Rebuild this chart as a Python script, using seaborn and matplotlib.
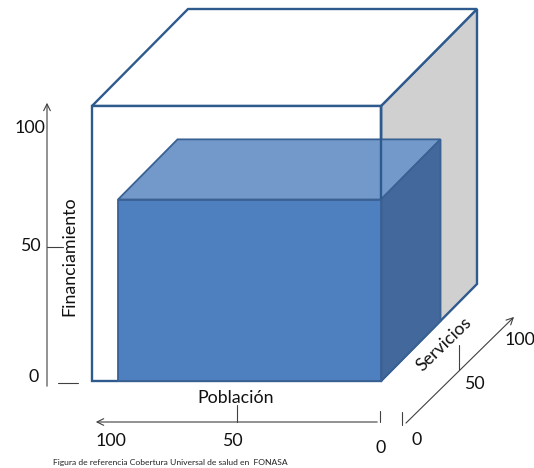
import matplotlib
matplotlib.use("Agg")
import matplotlib.pyplot as plt
from matplotlib.patches import Polygon
import seaborn as sns
import pandas as pd

# ---- data ----
dimensions = ["Población", "Servicios", "Financiamiento"]
total_coverage = [100, 100, 100]      # outer cube
current_coverage = [91, 62, 66]       # inner (covered) box
tick_values = [0, 50, 100]
tick_labels = ["0", "50", "100"]
caption = "Figura de referencia Cobertura Universal de salud en  FONASA"

sns.set_theme(style="white")
plt.rcParams["font.family"] = ["Lato", "DejaVu Sans"]

W, H = 534, 468
fig = plt.figure(figsize=(W / 100, H / 100), dpi=100)
ax = fig.add_axes([0, 0, 1, 1])
ax.set_xlim(0, W)
ax.set_ylim(H, 0)
ax.axis("off")

# oblique projection (pixel space)
X0, Y0, KX, KY, DX, DY = 381, 381, 2.89, 2.75, 0.96, 0.97


def proj(p, s, f):
    return (X0 - KX * p + DX * s, Y0 - KY * f - DY * s)


def box_faces(p, s, f):
    front = [proj(0, 0, 0), proj(p, 0, 0), proj(p, 0, f), proj(0, 0, f)]
    top = [proj(0, 0, f), proj(p, 0, f), proj(p, s, f), proj(0, s, f)]
    right = [proj(0, 0, 0), proj(0, 0, f), proj(0, s, f), proj(0, s, 0)]
    return front, top, right


edge_outer = "#2E5A8E"
edge_inner = "#3A6193"

P, S, F = total_coverage
front, top, right = box_faces(P, S, F)
for poly, fc in [(right, "#D0D0D0"), (top, "white"), (front, "white")]:
    ax.add_patch(Polygon(poly, closed=True, fc=fc, ec=edge_outer, lw=1.7, zorder=1, joinstyle="miter"))

p, s, f = current_coverage
ifront, itop, iright = box_faces(p, s, f)
ax.add_patch(Polygon(itop, closed=True, fc="#7399CB", ec=edge_inner, lw=1.3, zorder=2, joinstyle="miter"))
ax.add_patch(Polygon(iright, closed=True, fc="#43689B", ec=edge_inner, lw=1.3, zorder=2, joinstyle="miter"))
# outer front-right edge visible through the inner top face
e0, e1 = proj(0, 0, F), proj(0, 0, 0)
ax.plot([e0[0], e1[0]], [e0[1], e1[1]], color=edge_outer, lw=1.7, zorder=3)
ax.add_patch(Polygon(ifront, closed=True, fc="#4E7FBE", ec=edge_inner, lw=1.3, zorder=4, joinstyle="miter"))

axis_col = "#404040"
txt_kw = dict(color="#111111", fontsize=12.8)
arrow_kw = dict(arrowstyle="->", color=axis_col, lw=0.8, mutation_scale=12)

# ---- Financiamiento axis (vertical) ----
ax.annotate("", xy=(47, 100), xytext=(47, 389), arrowprops=arrow_kw)
fin_label_y = {0: 377, 50: 246, 100: 128}
for v, lab in zip(tick_values, tick_labels):
    ax.text(34 if v == 0 else 30, fin_label_y[v], lab, ha="center", va="center", **txt_kw)
ax.plot([47, 63], [247, 247], color=axis_col, lw=0.8)
ax.plot([58, 78], [383, 383], color=axis_col, lw=0.8)
ax.text(69, 256, dimensions[2], rotation=90, ha="center", va="center", **txt_kw)

# ---- Población axis (horizontal, reversed) ----
ax.annotate("", xy=(93, 422), xytext=(380, 422), arrowprops=arrow_kw)
pob_label_x = {0: 381, 50: 232, 100: 111}
pob_label_y = {0: 448, 50: 441, 100: 441}
for v, lab in zip(tick_values, tick_labels):
    ax.text(pob_label_x[v], pob_label_y[v], lab, ha="center", va="center", **txt_kw)
ax.plot([237, 237], [405, 422], color=axis_col, lw=0.8)
ax.plot([380, 380], [411, 422], color=axis_col, lw=0.8)
ax.text(236, 398, dimensions[0], ha="center", va="center", **txt_kw)

# ---- Servicios axis (depth) ----
ax.annotate("", xy=(516, 315), xytext=(404, 425), arrowprops=arrow_kw)
ser_label = {0: (417, 440), 50: (474, 384), 100: (520, 340)}
for v, lab in zip(tick_values, tick_labels):
    ax.text(*ser_label[v], lab, ha="center", va="center", **txt_kw)
ax.plot([459, 459], [345, 370], color=axis_col, lw=0.8)
ax.plot([402, 402], [412, 425], color=axis_col, lw=0.8)
ax.text(444, 344, dimensions[1], rotation=44, ha="center", va="center", **txt_kw)

ax.text(170, 462, caption, ha="center", va="center", fontsize=6.1, color="#222222")

fig.savefig("out.png", dpi=100)
